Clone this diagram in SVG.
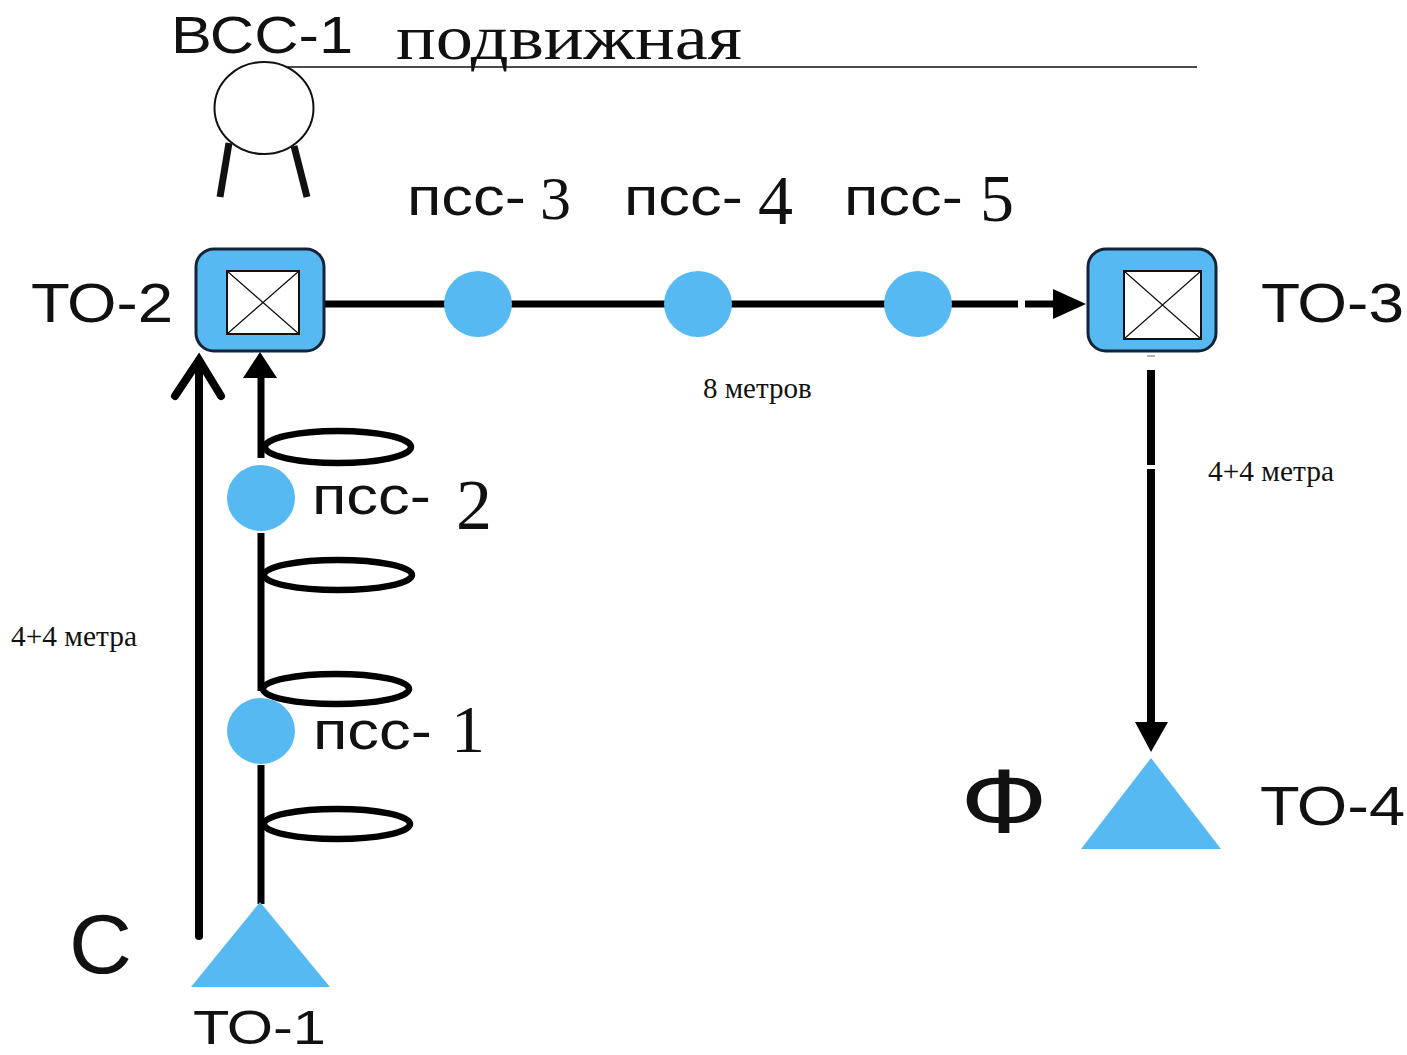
<svg xmlns="http://www.w3.org/2000/svg" width="1407" height="1055" viewBox="0 0 1407 1055">
<style>
.s{font-family:"Liberation Sans",Arial,sans-serif;fill:#111}
.t{font-family:"Liberation Serif","Times New Roman",serif;fill:#111}
.p{font-size:54px}
.to{font-size:55px}
.sm{font-size:29px}
.c{fill:#56b9f2}
.ln{stroke:#000;stroke-width:7;fill:none}
.ring{stroke:#000;stroke-width:6.5;fill:#fff}
.box{fill:#56b9f2;stroke:#12233a;stroke-width:3}
.x{fill:#fff;stroke:#111;stroke-width:2}
.a{fill:#000}
</style>
<rect width="1407" height="1055" fill="#fff"/>
<g id="connectors">
<path d="M288 67H1197" stroke="#111" stroke-width="1.5" fill="none"/>
<path class="ln" d="M325 304H1018M1025 304H1056"/>
<polygon class="a" points="1086,304 1053,289 1053,319"/>
<path class="ln" d="M261 376V458M261 533V691M261 765V904"/>
<polygon class="a" points="260,352 243,378 277,378"/>
<path class="ln" style="stroke-width:8;stroke-linecap:round" d="M199 936V362"/>
<path d="M175 396L199 360L221 396" stroke="#000" stroke-width="8" fill="none" stroke-linecap="round"/>
<path class="ln" style="stroke-width:8" d="M1151 370V465M1151 469V724"/>
<path d="M1147 356H1155" stroke="#999" stroke-width="1.5"/>
<polygon class="a" points="1151,752 1135,722 1168,722"/>
<path d="M229 143L220 197M294 146L307 197" stroke="#111" stroke-width="7" fill="none"/>
</g>
<g id="bcc-1"><ellipse cx="264" cy="108" rx="49.5" ry="46" fill="#fff" stroke="#111" stroke-width="2"/><text class="s" x="171" y="53" font-size="52" textLength="182" lengthAdjust="spacingAndGlyphs">ВСС-1</text></g>
<text class="t" x="396" y="59" font-size="64" textLength="346" lengthAdjust="spacingAndGlyphs">подвижная</text>
<g id="to-2"><rect class="box" x="196" y="249" width="128" height="102" rx="18"/><rect class="x" x="227" y="271" width="72" height="63"/><path d="M227 271L299 334M299 271L227 334" stroke="#111" stroke-width="1.2"/><text class="s to" x="31" y="322" textLength="142" lengthAdjust="spacingAndGlyphs">ТО-2</text></g>
<g id="to-3"><rect class="box" x="1088" y="249" width="128" height="102" rx="18"/><rect class="x" x="1124" y="271" width="77" height="68"/><path d="M1124 271L1201 339M1201 271L1124 339" stroke="#111" stroke-width="1.2"/><text class="s to" x="1261" y="322" textLength="143" lengthAdjust="spacingAndGlyphs">ТО-3</text></g>
<g id="pss-3"><ellipse class="c" cx="478" cy="304" rx="34" ry="33"/><text class="s p" x="407" y="215" textLength="119" lengthAdjust="spacingAndGlyphs">псс-</text><text class="t" x="540" y="219" font-size="62">3</text></g>
<g id="pss-4"><ellipse class="c" cx="698" cy="304" rx="34" ry="33"/><text class="s p" x="624" y="215" textLength="119" lengthAdjust="spacingAndGlyphs">псс-</text><text class="t" x="758" y="224" font-size="70">4</text></g>
<g id="pss-5"><ellipse class="c" cx="918" cy="304" rx="34" ry="33"/><text class="s p" x="844" y="215" textLength="119" lengthAdjust="spacingAndGlyphs">псс-</text><text class="t" x="980" y="221" font-size="68">5</text></g>
<g id="pss-2"><ellipse class="ring" cx="338" cy="447" rx="73" ry="16"/><ellipse class="ring" cx="338" cy="575" rx="74" ry="15"/><ellipse class="c" cx="261" cy="498" rx="34" ry="33"/><text class="s p" x="312" y="514" textLength="119" lengthAdjust="spacingAndGlyphs">псс-</text><text class="t" x="456" y="529" font-size="72">2</text></g>
<g id="pss-1"><ellipse class="ring" cx="336" cy="689" rx="73" ry="15"/><ellipse class="ring" cx="337" cy="824" rx="73" ry="15"/><ellipse class="c" cx="261" cy="731" rx="34" ry="33"/><text class="s p" x="313" y="749" textLength="119" lengthAdjust="spacingAndGlyphs">псс-</text><text class="t" x="451" y="752" font-size="68">1</text></g>
<g id="to-1"><polygon class="c" points="260,902 330,987 191,987"/><text class="s" x="193" y="1044" font-size="48" textLength="133" lengthAdjust="spacingAndGlyphs">ТО-1</text><text class="s" x="69" y="973" font-size="84" textLength="63" lengthAdjust="spacingAndGlyphs">С</text></g>
<g id="to-4"><polygon class="c" points="1151,758 1221,849 1081,849"/><text class="s to" x="1260" y="825" textLength="145" lengthAdjust="spacingAndGlyphs">ТО-4</text><text class="s" x="960" y="833" font-size="90" textLength="88" lengthAdjust="spacingAndGlyphs">Ф</text></g>
<text class="t sm" x="703" y="398">8 метров</text>
<text class="t sm" x="1208" y="481" textLength="126" lengthAdjust="spacingAndGlyphs">4+4 метра</text>
<text class="t sm" x="11" y="646" textLength="126" lengthAdjust="spacingAndGlyphs">4+4 метра</text>
</svg>
